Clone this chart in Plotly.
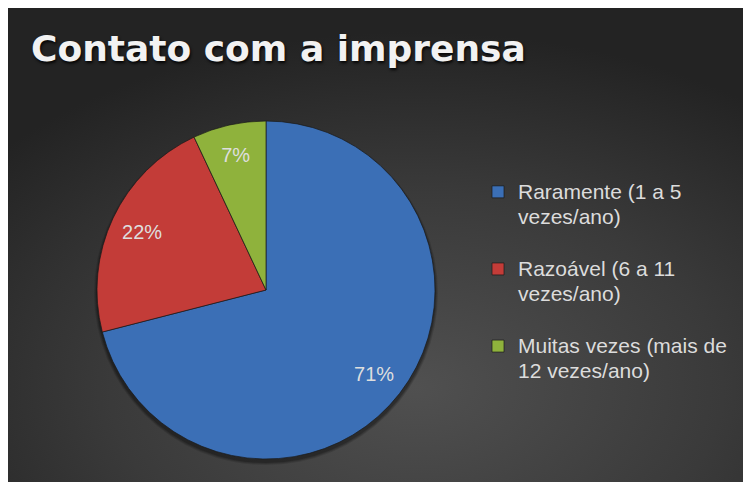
import base64
import plotly.graph_objects as go

# ---- data ----
categories = [
    "Raramente (1 a 5<br>vezes/ano)",
    "Razoável (6 a 11<br>vezes/ano)",
    "Muitas vezes (mais de<br>12 vezes/ano)",
]
values = [71, 22, 7]
slice_colors = ["#3b6fb6", "#c33c38", "#8fb23c"]
title_text = "Contato com a imprensa"

# page is offset by the browser's 8px body margin
OFF = 8
W, H = 751 - OFF, 482 - OFF


def px_x(X):
    return (X - OFF) / W


def px_y(Y):
    return 1 - (Y - OFF) / H


svg = (
    f'<svg xmlns="http://www.w3.org/2000/svg" width="{W}" height="{H}">'
    '<defs><radialGradient id="g" cx="0.55" cy="0.8" r="0.75">'
    '<stop offset="0" stop-color="#505050"/>'
    '<stop offset="0.55" stop-color="#3a3a3a"/>'
    '<stop offset="1" stop-color="#232323"/>'
    '</radialGradient></defs>'
    f'<rect x="0" y="0" width="{W}" height="{H}" fill="url(#g)"/></svg>'
)
bg_src = "data:image/svg+xml;base64," + base64.b64encode(svg.encode()).decode()

legend_labels = ['<span style="font-size:21px">' + c.replace("<br>", '</span><br><span style="font-size:21px">') + "</span><br> "
                 for c in categories]

domain = dict(x=[px_x(97), px_x(435)], y=[px_y(459), px_y(121)])

# base pie: slices + legend
base = go.Pie(
    labels=legend_labels,
    values=values,
    sort=False,
    direction="clockwise",
    rotation=0,
    marker=dict(colors=slice_colors, line=dict(color="rgba(25,25,25,0.7)", width=1)),
    textinfo="none",
    hoverinfo="label+percent",
    domain=domain,
)
# transparent ring pie: only carries the percentage labels (placed in outer ring)
labels_pie = go.Pie(
    labels=legend_labels,
    values=values,
    sort=False,
    direction="clockwise",
    rotation=0,
    hole=0.62,
    marker=dict(colors=["rgba(0,0,0,0)"] * len(values), line=dict(width=0)),
    texttemplate="%{percent:.0%}",
    textposition="inside",
    insidetextorientation="horizontal",
    textfont=dict(family="Liberation Sans, Arial, sans-serif", size=20, color="#dedede"),
    hoverinfo="skip",
    showlegend=False,
    domain=domain,
)

fig = go.Figure([base, labels_pie])

# soft drop shadow under the pie
shadows = [
    dict(type="circle", xref="paper", yref="paper",
         x0=px_x(97 - g), x1=px_x(435 + g), y0=px_y(459 + 3 + g), y1=px_y(121 + 3 - g),
         line=dict(width=0), fillcolor=f"rgba(0,0,0,{a})", layer="below")
    for g, a in [(3, 0.12), (2, 0.15), (1, 0.2)]
]

fig.update_layout(
    width=W,
    height=H,
    margin=dict(l=0, r=0, t=0, b=0),
    paper_bgcolor="#2a2a2a",
    images=[dict(
        source=bg_src, xref="paper", yref="paper", x=0, y=1,
        sizex=1, sizey=1, xanchor="left", yanchor="top",
        sizing="stretch", layer="below",
    )],
    shapes=shadows,
    title=dict(
        text=title_text,
        x=px_x(31), xanchor="left", xref="container",
        y=px_y(48.5), yanchor="middle", yref="container",
        font=dict(family="DejaVu Sans, Arial, sans-serif", size=36, color="#f2f2f2",
                  weight="bold", shadow="1px 2px 3px rgba(0,0,0,0.9)"),
    ),
    uniformtext=dict(minsize=20, mode="show"),
    showlegend=True,
    legend=dict(
        x=px_x(478), xanchor="left",
        y=px_y(173), yanchor="top",
        valign="top",
        bgcolor="rgba(0,0,0,0)",
        font=dict(family="Liberation Sans, Arial, sans-serif", size=19, color="#dcdcdc"),
        traceorder="normal",
    ),
)

fig.write_html("out.html")
